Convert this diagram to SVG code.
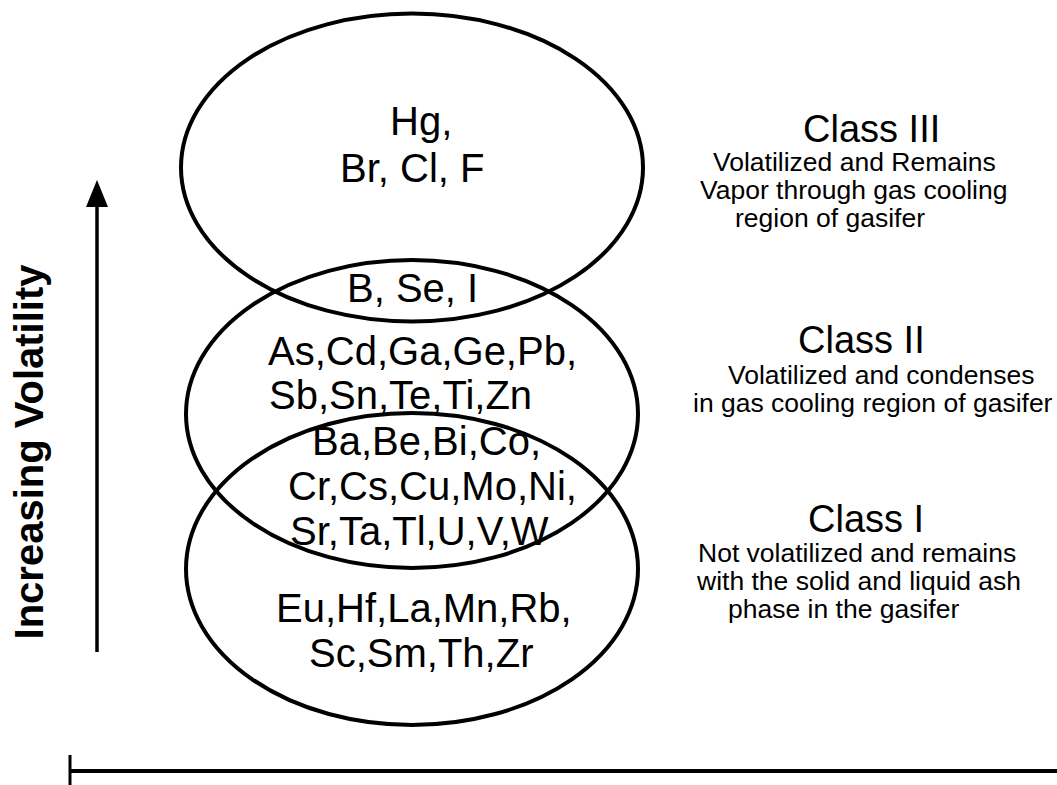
<svg xmlns="http://www.w3.org/2000/svg" width="1057" height="785" viewBox="0 0 1057 785">
<style>
.ell{fill:none;stroke:#000;stroke-width:4}
.el{font-family:"Liberation Sans",Arial,sans-serif;font-size:40px;fill:#000}
.cls{font-family:"Liberation Sans",Arial,sans-serif;font-size:38px;fill:#000}
.desc{font-family:"Liberation Sans",Arial,sans-serif;font-size:26.5px;fill:#000}
.axis{font-family:"Liberation Sans",Arial,sans-serif;font-size:40px;font-weight:bold;fill:#000}
</style>
<rect width="1057" height="785" fill="#fff"/>
<g id="class3">
<ellipse class="ell" cx="412" cy="167.5" rx="231" ry="154"/>
<text class="el" x="390" y="135">Hg,</text>
<text class="el" x="340" y="182">Br, Cl, F</text>
</g>
<g id="class2">
<ellipse class="ell" cx="412" cy="414" rx="226" ry="154"/>
<text class="el" x="347" y="302">B, Se, I</text>
<text class="el" x="268" y="365">As,Cd,Ga,Ge,Pb,</text>
<text class="el" x="269" y="409">Sb,Sn,Te,Ti,Zn</text>
</g>
<g id="class1">
<ellipse class="ell" cx="412" cy="569" rx="226" ry="156"/>
<text class="el" x="312" y="455">Ba,Be,Bi,Co,</text>
<text class="el" x="288" y="500">Cr,Cs,Cu,Mo,Ni,</text>
<text class="el" x="290" y="545">Sr,Ta,Tl,U,V,W</text>
<text class="el" x="276" y="622">Eu,Hf,La,Mn,Rb,</text>
<text class="el" x="309" y="667">Sc,Sm,Th,Zr</text>
</g>
<g id="label3">
<text class="cls" x="803" y="142">Class III</text>
<text class="desc" x="713" y="171">Volatilized and Remains</text>
<text class="desc" x="700" y="199">Vapor through gas cooling</text>
<text class="desc" x="735" y="227">region of gasifer</text>
</g>
<g id="label2">
<text class="cls" x="798" y="353">Class II</text>
<text class="desc" x="728" y="384">Volatilized and condenses</text>
<text class="desc" x="693" y="412">in gas cooling region of gasifer</text>
</g>
<g id="label1">
<text class="cls" x="808" y="532">Class I</text>
<text class="desc" x="698" y="562">Not volatilized and remains</text>
<text class="desc" x="697" y="590">with the solid and liquid ash</text>
<text class="desc" x="728" y="618">phase in the gasifer</text>
</g>
<g id="connectors">
<line x1="97" y1="652" x2="97" y2="204" stroke="#000" stroke-width="3.5"/>
<polygon points="97,180 86,207 108,207" fill="#000"/>
<line x1="70" y1="771" x2="1057" y2="771" stroke="#000" stroke-width="4"/>
<line x1="70" y1="755" x2="70" y2="785" stroke="#000" stroke-width="3"/>
</g>
<g id="axis-label">
<text class="axis" x="43" y="452" text-anchor="middle" transform="rotate(-90 43 452)">Increasing Volatility</text>
</g>
</svg>
